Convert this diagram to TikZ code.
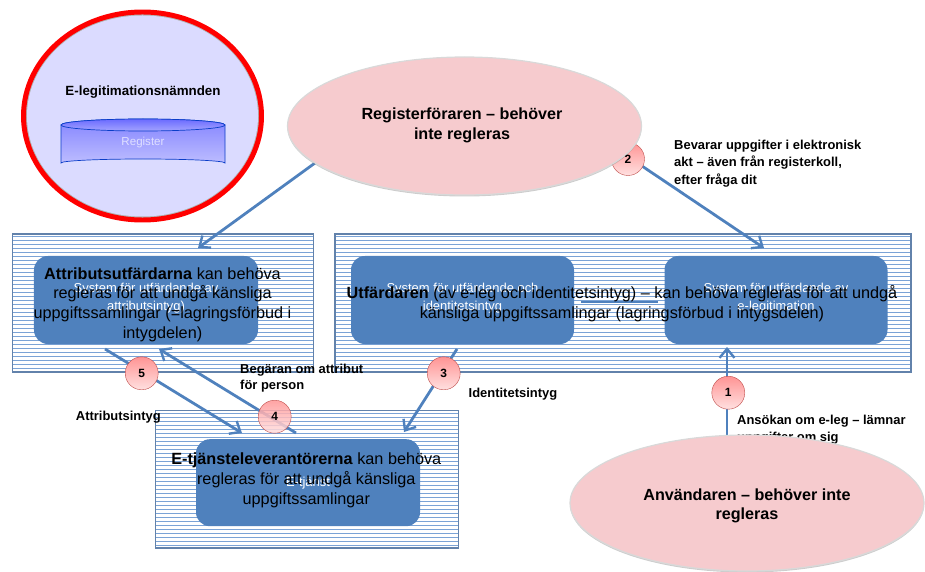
\documentclass[tikz,border=0pt]{standalone}
\usepackage{fontspec}
\setmainfont{Liberation Sans}
\usetikzlibrary{arrows.meta,shadows}
\definecolor{pilblue}{HTML}{4F81BD}
\definecolor{stripeblue}{HTML}{7BA3D6}
\definecolor{rosa}{HTML}{F6CBCE}
\definecolor{numline}{HTML}{BE4B48}
\definecolor{cylline}{HTML}{0A3DC8}
\tikzset{
  stripeline/.style={draw=stripeblue, line width=1bp},
  stripeframe/.style={draw=stripeblue!80!black, line width=1.1pt},
  systembox/.style={fill=pilblue, rounded corners=14pt},
  pil/.style={draw=pilblue, line width=2.8pt, -{Straight Barb[length=9pt,width=15pt,line width=2.4pt]}},
  numcircle/.style={circle, draw=numline, minimum size=33bp, inner sep=0pt, top color=red!42!white, bottom color=red!12!white},
  numtext/.style={font=\fontsize{12}{14}\selectfont\bfseries},
  roleellipse/.style={draw=black!15, line width=1.2pt, fill=rosa, drop shadow={shadow xshift=0pt,shadow yshift=-1.5pt,opacity=.4}},
  rolelabel/.style={align=center, font=\fontsize{16.2}{19.5}\selectfont\bfseries},
  steplabel/.style={align=left, anchor=west, inner sep=0pt, font=\fontsize{13}{#1}\selectfont\bfseries},
  steplabel/.default={17.6},
  systemtext/.style={align=center, text=white, font=\fontsize{13}{18.5}\selectfont},
  overtext/.style={align=center, font=\fontsize{16.3}{19.8}\selectfont},
}
\begin{document}
\begin{tikzpicture}[x=1bp,y=-1bp]
\useasboundingbox (0,0) rectangle (925,572);
% naemnden
\draw[red, line width=5pt, fill=black!30] (142.5,116) circle [x radius=119, y radius=104];
\fill[fill=blue!14!white] (142.5,116) circle [x radius=115.5, y radius=100.5];
\node[font=\fontsize{13.4}{15}\selectfont\bfseries] (naemnd) at (143,92) {E-legitimationsnämnden};
\shade[top color=blue!48!white, bottom color=blue!26!white, draw=cylline, line width=.7pt]
  (61,125) arc [start angle=180, end angle=360, x radius=82, y radius=6] -- (225,163)
  arc [start angle=360, end angle=180, x radius=82, y radius=4] -- cycle;
\shade[top color=blue!58!white, bottom color=blue!36!white, draw=cylline, line width=.7pt] (143,125) circle [x radius=82, y radius=6];
\node[text=white!88!blue, font=\fontsize{11.6}{13}\selectfont] (register) at (143,143) {Register};
% boxes
\foreach \y in {236.5,240.5,...,372} \draw[stripeline] (12.5,\y) -- (313.7,\y);
\foreach \y in {236.5,240.5,...,372} \draw[stripeline] (335,\y) -- (911,\y);
\foreach \y in {413.5,417.5,...,548} \draw[stripeline] (155.7,\y) -- (458.7,\y);
\draw[stripeframe] (12.5,234) rectangle (313.7,372);
\draw[stripeframe] (335,234) rectangle (911,372);
\draw[stripeframe] (155.7,410.7) rectangle (458.7,548);
\node[systembox, minimum width=224bp, minimum height=88bp] (attrsys) at (146,300) {};
\node[systembox, minimum width=223bp, minimum height=88bp] (idsys) at (462.5,300) {};
\node[systembox, minimum width=223bp, minimum height=88bp] (legsys) at (776,300) {};
\node[systembox, minimum width=224bp, minimum height=87bp] (etjsys) at (308,482.7) {};
\node[systemtext] (attrname) at (146,298) {System för utfärdande av\\attributsintyg)};
\node[systemtext] (idname) at (462.5,298) {System för utfärdande och\\identitetsintyg};
\node[systemtext] (legname) at (776,298) {System för utfärdande av\\e-legitimation};
\node[systemtext] (etjname) at (308,483) {E-tjänst};
% connectors
\coordinate (barleft) at (581,302);
\coordinate (barright) at (658,302);
\coordinate (regout) at (315,163);
\coordinate (attrtop) at (198,248);
\coordinate (regfrom) at (630,158);
\coordinate (legtop) at (764,248);
\coordinate (attrout) at (105,349);
\coordinate (etjleft) at (242,433);
\coordinate (etjmid) at (296,433);
\coordinate (attrin) at (159,349);
\coordinate (idout) at (457,349);
\coordinate (etjright) at (404,432);
\coordinate (anvout) at (727,450);
\coordinate (legin) at (727,347);
\draw[draw=pilblue, line width=2.8pt] (barleft) -- (barright);
\draw[pil] (regout) -- (attrtop);
\draw[pil] (regfrom) -- (legtop);
\draw[pil] (attrout) -- (etjleft);
\draw[pil] (etjmid) -- (attrin);
\draw[pil] (idout) -- (etjright);
\draw[pil] (anvout) -- (legin);
% labels
\node[steplabel] (bevarar) at (674,163.5) {Bevarar uppgifter i elektronisk\\akt -- även från registerkoll,\\efter fråga dit};
\node[steplabel=16] (begaran) at (240,378.5) {Begäran om attribut\\för person};
\node[steplabel] (attrintyg) at (75.7,417) {Attributsintyg};
\node[steplabel] (idintyg) at (468.5,394) {Identitetsintyg};
\node[steplabel] (ansokan) at (737,429.5) {Ansökan om e-leg -- lämnar\\uppgifter om sig};
% steps
\node[numcircle] (n1) at (728.3,392.7) {};
\node[numcircle] (n2) at (628,159) {};
\node[numcircle] (n3) at (443.7,373.3) {};
\node[numcircle, fill opacity=.85] (n4) at (274.7,416.7) {};
\node[numcircle] (n5) at (141.7,373.3) {};
% roles
\path[roleellipse] (464.5,126) circle [x radius=177, y radius=69];
\path[roleellipse] (747,503) circle [x radius=177, y radius=68];
\foreach \n in {1,2,3,4,5} \node[numtext] at (n\n) {\n};
\node[rolelabel] (regforare) at (462,125.5) {Registerföraren -- behöver\\inte regleras};
\node[rolelabel] (anvandare) at (747,506) {Användaren -- behöver inte\\regleras};
% overlay texts
\node[overtext] (attrtext) at (162.5,304.5) {\textbf{Attributsutfärdarna} kan behöva\\regleras för att undgå känsliga\\uppgiftssamlingar (=lagringsförbud i\\intygdelen)};
\node[overtext] (idtext) at (622,304) {\textbf{Utfärdaren} (av e-leg och identitetsintyg) -- kan behöva regleras för att undgå\\känsliga uppgiftssamlingar (lagringsförbud i intygsdelen)};
\node[overtext] (etjtext) at (306.3,480.5) {\textbf{E-tjänsteleverantörerna} kan behöva\\regleras för att undgå känsliga\\uppgiftssamlingar};
\end{tikzpicture}
\end{document}
